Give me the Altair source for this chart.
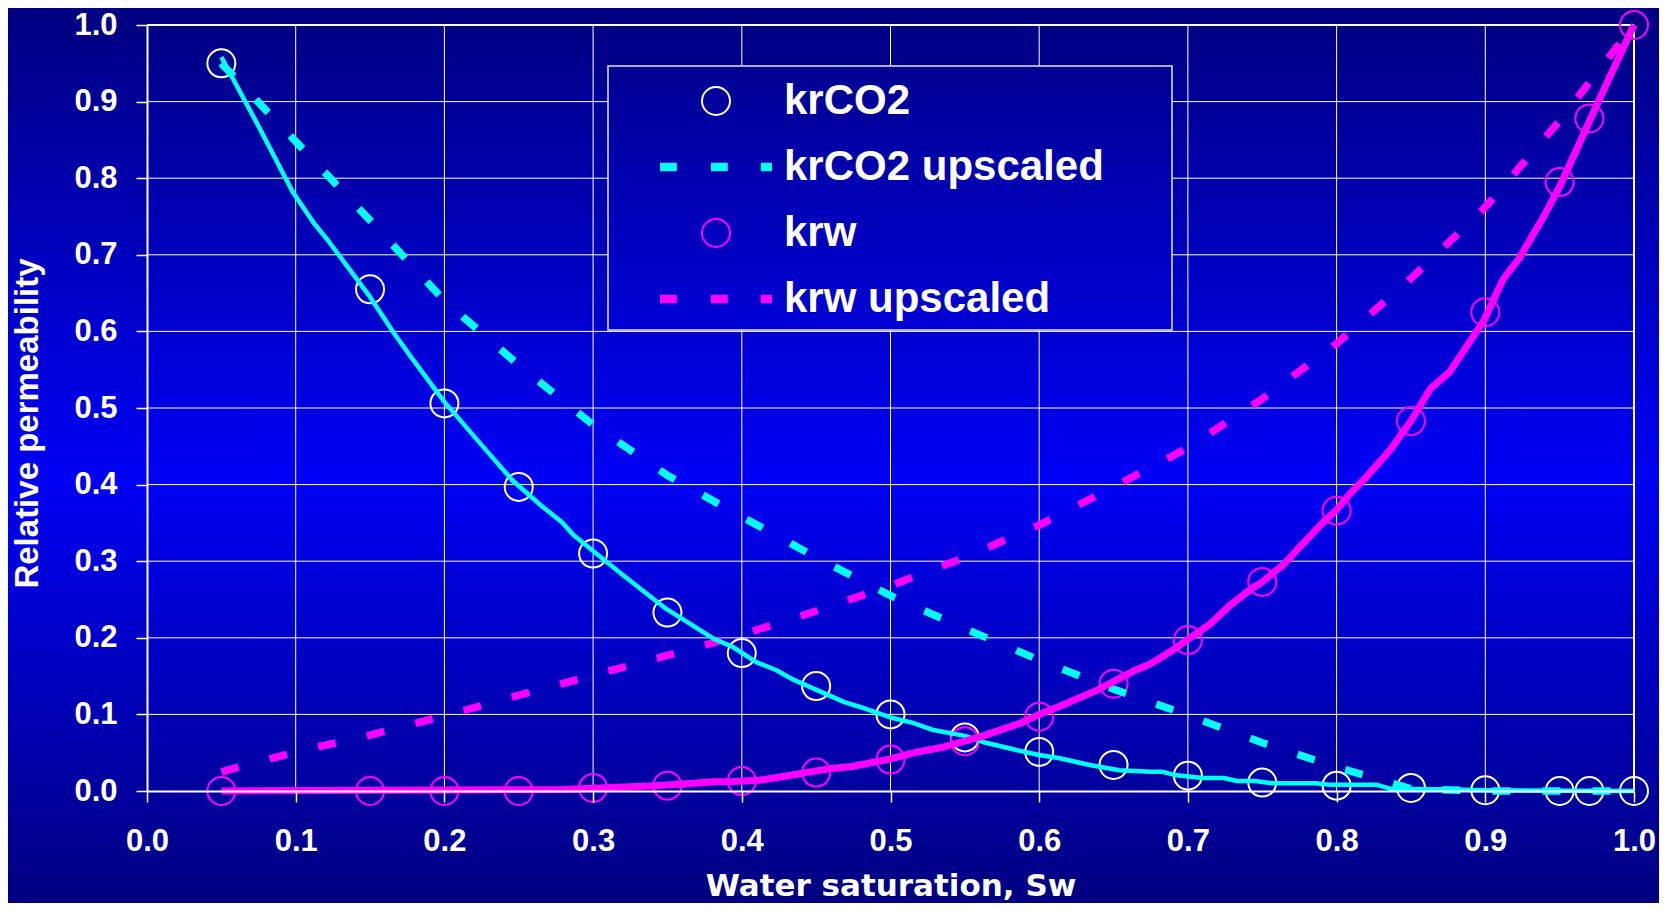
import altair as alt
import pandas as pd

# ---------------- data ----------------
series_names = ["krCO2", "krCO2 upscaled", "krw", "krw upscaled"]
series_colors = ["#FFFFFF", "#00FFFF", "#FF00FF", "#FF00FF"]

# measured points (circles)
sw_pts = [0.05, 0.15, 0.20, 0.25, 0.30, 0.35, 0.40, 0.45, 0.50, 0.55,
          0.60, 0.65, 0.70, 0.75, 0.80, 0.85, 0.90, 0.95, 0.97, 1.00]
krco2_pts = [0.950, 0.655, 0.506, 0.397, 0.310, 0.233, 0.180, 0.137, 0.100, 0.070,
             0.051, 0.034, 0.020, 0.011, 0.007, 0.004, 0.001, 0.000, 0.000, 0.000]
krw_pts = [0.000, 0.000, 0.000, 0.000, 0.004, 0.007, 0.013, 0.024, 0.041, 0.065,
           0.097, 0.140, 0.197, 0.273, 0.366, 0.483, 0.625, 0.795, 0.878, 1.000]

# fitted curves (solid lines)
sw_krco2_fit = [0.05, 0.075, 0.098, 0.112, 0.122, 0.150, 0.166, 0.177, 0.200, 0.228,
                0.246, 0.266, 0.279, 0.287, 0.304, 0.320, 0.349, 0.381, 0.394, 0.410,
                0.423, 0.435, 0.469, 0.479, 0.500, 0.515, 0.528, 0.550, 0.562, 0.588,
                0.600, 0.613, 0.634, 0.654, 0.675, 0.683, 0.691, 0.710, 0.724, 0.733,
                0.745, 0.757, 0.786, 0.796, 0.827, 0.836, 0.880, 0.900, 1.000]
krco2_fit = [0.958, 0.868, 0.782, 0.742, 0.718, 0.645, 0.598, 0.568, 0.508, 0.445,
             0.405, 0.371, 0.351, 0.334, 0.307, 0.282, 0.238, 0.199, 0.188, 0.168,
             0.158, 0.145, 0.116, 0.110, 0.096, 0.089, 0.080, 0.072, 0.064, 0.052,
             0.047, 0.043, 0.034, 0.027, 0.025, 0.025, 0.021, 0.017, 0.017, 0.013,
             0.013, 0.010, 0.010, 0.008, 0.008, 0.003, 0.002, 0.001, 0.000]

sw_krw_fit = [0.05, 0.280, 0.304, 0.338, 0.368, 0.381, 0.394, 0.412, 0.428, 0.443,
              0.459, 0.474, 0.500, 0.518, 0.536, 0.550, 0.562, 0.577, 0.588, 0.600,
              0.613, 0.639, 0.665, 0.675, 0.688, 0.700, 0.715, 0.728, 0.742, 0.750,
              0.764, 0.775, 0.791, 0.800, 0.809, 0.820, 0.836, 0.850, 0.863, 0.876,
              0.899, 0.912, 0.923, 0.939, 0.951, 0.966, 0.976, 1.000]
krw_fit = [0.000, 0.002, 0.004, 0.0065, 0.010, 0.012, 0.0125, 0.014, 0.019, 0.024,
           0.029, 0.032, 0.042, 0.051, 0.0575, 0.065, 0.0717, 0.0817, 0.089, 0.100,
           0.110, 0.1317, 0.158, 0.166, 0.1815, 0.198, 0.218, 0.242, 0.263, 0.273,
           0.295, 0.318, 0.351, 0.367, 0.388, 0.410, 0.445, 0.483, 0.525, 0.547,
           0.614, 0.668, 0.696, 0.749, 0.793, 0.857, 0.900, 1.000]

# upscaled curves (dashed lines)
sw_up = [0.05, 0.10, 0.15, 0.20, 0.25, 0.30, 0.35, 0.40, 0.45, 0.50,
         0.55, 0.60, 0.65, 0.70, 0.75, 0.80, 0.85, 0.90, 0.95, 1.00]
krco2_up = [0.950, 0.848, 0.745, 0.640, 0.556, 0.478, 0.412, 0.358, 0.305, 0.255,
            0.212, 0.171, 0.133, 0.099, 0.063, 0.031, 0.003, 0.000, 0.000, 0.000]
krw_up = [0.025, 0.051, 0.073, 0.098, 0.125, 0.151, 0.177, 0.204, 0.235, 0.268,
          0.305, 0.347, 0.397, 0.448, 0.512, 0.584, 0.669, 0.762, 0.875, 1.000]

tick_vals = [0.0, 0.1, 0.2, 0.3, 0.4, 0.5, 0.6, 0.7, 0.8, 0.9, 1.0]
grid_vals = [0.1, 0.2, 0.3, 0.4, 0.5, 0.6, 0.7, 0.8, 0.9, 1.0]

# ---------------- layout / style ----------------
W, H = 1487, 766
PAD_L, PAD_T, PAD_R, PAD_B = 139, 17, 25, 112
FONT_WIDE = "DejaVu Sans"
FONT = "Liberation Sans"

circle_path = "M0.25,0A0.25,0.25,0,1,1,-0.25,0A0.25,0.25,0,1,1,0.25,0Z"
dash_segs = [(-1.0, -0.7), (-0.09, 0.21), (0.8, 1.0)]
dash_offs = [-0.06, -0.03, 0.0, 0.03, 0.06]
dash_path = " ".join(f"M{a},{o}H{b}" for a, b in dash_segs for o in dash_offs)
series_shapes = [circle_path, dash_path, circle_path, dash_path]

xs = alt.Scale(domain=[0, 1], nice=False, zero=False)
ys = alt.Scale(domain=[0, 1], nice=False, zero=False)

axis_common = dict(
    values=tick_vals, format=".1f", grid=False,
    domainColor="white", domainWidth=2,
    tickColor="white", tickWidth=1.5, tickSize=11,
    labelColor="white", labelFont=FONT, labelFontSize=31, labelFontWeight="bold",
    labelFlush=False, labelOverlap=False,
    titleColor="white", titleFontWeight="bold",
    zindex=1,
)
xaxis = alt.Axis(title="Water saturation, Sw", labelPadding=24, titleFont=FONT_WIDE,
                 titleFontSize=31, titleY=104, titleBaseline="alphabetic", **axis_common)
yaxis = alt.Axis(title="Relative permeability", labelPadding=19, titleFont=FONT,
                 titleFontSize=33, titleX=-110, titleY=398, titleAngle=270,
                 titleAlign="center", titleBaseline="alphabetic", **axis_common)

bg_gradient = {
    "gradient": "linear", "x1": 0, "y1": 0, "x2": 0, "y2": 1,
    "stops": [
        {"offset": 0, "color": "#000080"},
        {"offset": 0.525, "color": "#0000F5"},
        {"offset": 1, "color": "#000080"},
    ],
}
legend_gradient = {
    "gradient": "linear", "x1": 0, "y1": 0, "x2": 0, "y2": 1,
    "stops": [
        {"offset": 0, "color": "#000092"},
        {"offset": 1, "color": "#0000D6"},
    ],
}

one = pd.DataFrame({"a": [0]})

background = alt.Chart(one).mark_rect(fill=bg_gradient).encode(
    x=alt.value(-PAD_L), x2=alt.value(W + PAD_R),
    y=alt.value(-PAD_T), y2=alt.value(H + PAD_B),
)

grid_df = pd.DataFrame({"sw": grid_vals, "kr": grid_vals})
vgrid = alt.Chart(grid_df).mark_rule(color="white").encode(
    x=alt.X("sw:Q", scale=xs, axis=xaxis),
    strokeWidth=alt.condition("datum.sw >= 1", alt.value(2), alt.value(1)),
)
hgrid = alt.Chart(grid_df).mark_rule(color="white").encode(
    y=alt.Y("kr:Q", scale=ys, axis=yaxis),
    strokeWidth=alt.condition("datum.kr >= 1", alt.value(2), alt.value(1)),
)

legend_box = alt.Chart(one).mark_rect(
    fill=legend_gradient, stroke="#E4E4EC", strokeWidth=1.5
).encode(
    x=alt.value(461), x2=alt.value(1025),
    y=alt.value(41), y2=alt.value(305),
)

pts_df = pd.concat([
    pd.DataFrame({"sw": sw_pts, "kr": krco2_pts, "series": "krCO2"}),
    pd.DataFrame({"sw": sw_pts, "kr": krw_pts, "series": "krw"}),
])

legend = alt.Legend(
    orient="none", legendX=512, legendY=56, direction="vertical", title=None,
    labelFont=FONT, labelFontSize=42, labelFontWeight="bold", labelColor="white",
    labelLimit=1000, labelOffset=11, symbolSize=12544, symbolStrokeWidth=2,
    symbolOpacity=1, rowPadding=24, padding=0, clipHeight=40,
)

points = alt.Chart(pts_df).mark_point(filled=False, size=12544, strokeWidth=2, opacity=1).encode(
    x=alt.X("sw:Q", scale=xs, axis=xaxis),
    y=alt.Y("kr:Q", scale=ys, axis=yaxis),
    color=alt.Color("series:N", scale=alt.Scale(domain=series_names, range=series_colors), legend=legend),
    shape=alt.Shape("series:N", scale=alt.Scale(domain=series_names, range=series_shapes), legend=legend),
)

def line_layer(sw, kr, color, width, dash=None):
    df = pd.DataFrame({"sw": sw, "kr": kr})
    kwargs = dict(color=color, strokeWidth=width, strokeCap="butt", strokeJoin="round")
    if dash is not None:
        kwargs["strokeDash"] = dash
    return alt.Chart(df).mark_line(**kwargs).encode(
        x=alt.X("sw:Q", scale=xs, axis=xaxis),
        y=alt.Y("kr:Q", scale=ys, axis=yaxis),
    )

co2_up = line_layer(sw_up, krco2_up, "#00FFFF", 7.5, [18, 32])
w_up = line_layer(sw_up, krw_up, "#FF00FF", 7.5, [18, 32])
co2_fit = line_layer(sw_krco2_fit, krco2_fit, "#00FFFF", 4.5)
w_fit = line_layer(sw_krw_fit, krw_fit, "#FF00FF", 7)

chart = alt.layer(
    background, vgrid, hgrid, legend_box, points, co2_up, w_up, co2_fit, w_fit
).properties(
    width=W, height=H,
    autosize=alt.AutoSizeParams(type="none"),
    padding={"left": PAD_L, "top": PAD_T, "right": PAD_R, "bottom": PAD_B},
    background="#000080",
).configure_view(strokeWidth=0)

chart.save("out.html", embed_options={"renderer": "svg", "actions": False})
